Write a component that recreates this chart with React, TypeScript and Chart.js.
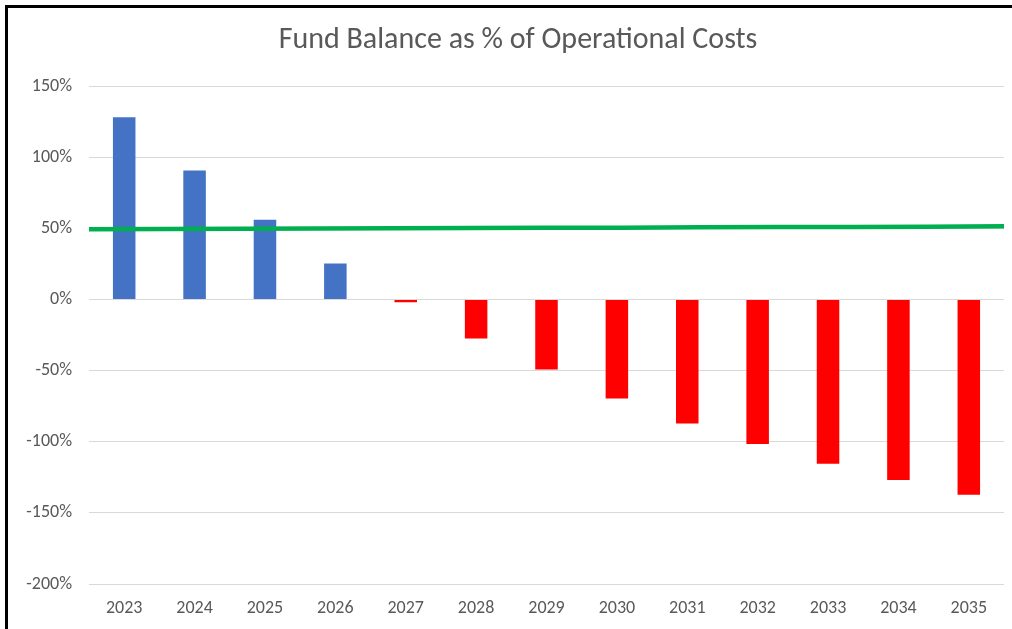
import React, { useEffect, useRef } from "react";
import { Chart, registerables } from "chart.js";

Chart.register(...registerables);

const years = ["2023", "2024", "2025", "2026", "2027", "2028", "2029", "2030", "2031", "2032", "2033", "2034", "2035"];
const fundBalancePct = [128.2, 90.8, 56.2, 25.3, -1.9, -27.4, -49.2, -69.5, -87.1, -101.6, -115.4, -126.9, -137.2];
const targetPct = [49.5, 49.7, 49.8, 50.0, 50.1, 50.3, 50.5, 50.6, 50.8, 51.0, 51.1, 51.3, 51.5];
const yTicks = [150, 100, 50, 0, -50, -100, -150, -200];

const BLUE = "#4472C4";
const RED = "#FF0000";
const GREEN = "#00B050";
const TEXT = "#595959";
const FONT = "Carlito, Lato, sans-serif";

export default function App() {
  const ref = useRef<HTMLCanvasElement | null>(null);

  useEffect(() => {
    document.body.style.margin = "0";
    const canvas = ref.current;
    if (!canvas) return;
    const chart = new Chart(canvas, {
      type: "bar",
      data: {
        labels: years,
        datasets: [
          {
            type: "line",
            label: "Target",
            data: targetPct,
            xAxisID: "x2",
            yAxisID: "y",
            borderColor: GREEN,
            borderWidth: 4.5,
            pointRadius: 0,
            tension: 0,
            order: 0,
          },
          {
            type: "bar",
            label: "Fund Balance",
            data: fundBalancePct,
            xAxisID: "x",
            yAxisID: "y",
            backgroundColor: fundBalancePct.map((v) => (v >= 0 ? BLUE : RED)),
            barPercentage: 0.32,
            categoryPercentage: 1,
            grouped: false,
            order: 1,
          },
        ],
      } as any,
      options: {
        animation: false,
        responsive: false,
        maintainAspectRatio: false,
        layout: { padding: { left: 0, right: 8, top: 0, bottom: 0 } },
        plugins: {
          legend: { display: false },
          tooltip: { enabled: false },
          title: {
            display: true,
            text: "Fund Balance as % of Operational Costs",
            color: TEXT,
            font: { family: FONT, size: 30, weight: "normal", lineHeight: 1.2 },
            padding: { top: 14.5, bottom: 27.8 },
          },
        },
        scales: {
          x: {
            type: "category",
            offset: true,
            grid: { display: false, drawTicks: false },
            border: { display: false },
            ticks: { color: TEXT, font: { family: FONT, size: 18 }, padding: 14, maxRotation: 0 },
            afterFit: (s: any) => {
              s.height = 45;
            },
          },
          x2: {
            type: "category",
            labels: years,
            offset: false,
            display: false,
          },
          y: {
            type: "linear",
            position: "left",
            min: -200,
            max: 150,
            grid: { color: "#D9D9D9", lineWidth: 1, drawTicks: false },
            border: { display: false },
            afterBuildTicks: (s: any) => {
              s.ticks = yTicks.map((v) => ({ value: v }));
            },
            ticks: {
              color: TEXT,
              font: { family: FONT, size: 18 },
              padding: 17,
              callback: (v: any) => `${v}%`,
            },
            afterFit: (s: any) => {
              s.width = 81;
            },
          },
          yR: {
            type: "linear",
            position: "right",
            min: -200,
            max: 150,
            grid: { display: false, drawTicks: false },
            border: { display: false },
            ticks: { display: false },
            afterFit: (s: any) => {
              s.width = 24;
            },
          },
        },
      } as any,
    });
    return () => chart.destroy();
  }, []);

  return (
    <div style={{ position: "relative", width: 1012, height: 629, overflow: "hidden", background: "#fff" }}>
      <div
        style={{
          position: "absolute",
          left: 5,
          top: 5,
          width: 1007,
          height: 624,
          borderLeft: "3px solid #000",
          borderTop: "3px solid #000",
          boxSizing: "border-box",
        }}
      />
      <canvas ref={ref} width={1028} height={621} style={{ position: "absolute", left: 8, top: 8, display: "block" }} />
    </div>
  );
}
